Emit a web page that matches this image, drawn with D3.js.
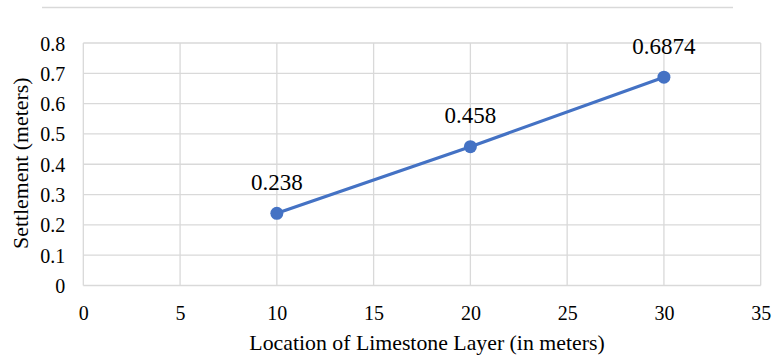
<!DOCTYPE html>
<html>
<head>
<meta charset="utf-8">
<script src="https://cdn.jsdelivr.net/npm/d3@7"></script>
<style>
  html, body { margin: 0; padding: 0; background: #fff; }
  svg { display: block; }
</style>
</head>
<body>
<svg id="chart" width="772" height="360"></svg>
<script>
// Settlement vs. depth of limestone layer
const locations = [10, 20, 30];
const settlements = [0.238, 0.458, 0.6874];
const xTicks = [0, 5, 10, 15, 20, 25, 30, 35];
const yTicks = [0, 0.1, 0.2, 0.3, 0.4, 0.5, 0.6, 0.7, 0.8];
const xTitle = "Location of Limestone Layer (in meters)";
const yTitle = "Settlement (meters)";

const SERIF = "Liberation Serif";

const svg = d3.select("#chart");
const plot = { left: 83.3, right: 760.7, top: 43, bottom: 285.5 };

const x = d3.scaleLinear().domain([0, 35]).range([plot.left, plot.right]);
const y = d3.scaleLinear().domain([0, 0.8]).range([plot.bottom, plot.top]);

// thin rule above the chart
svg.append("line")
  .attr("x1", 42).attr("x2", 733).attr("y1", 7.5).attr("y2", 7.5)
  .attr("stroke", "#d9d9d9").attr("stroke-width", 1.5);

// gridlines
const grid = svg.append("g").attr("stroke", "#d9d9d9").attr("stroke-width", 1.3);
grid.selectAll(".gy").data(yTicks).join("line")
  .attr("x1", plot.left).attr("x2", plot.right)
  .attr("y1", d => y(d)).attr("y2", d => y(d));
grid.selectAll(".gx").data(xTicks).join("line")
  .attr("x1", d => x(d)).attr("x2", d => x(d))
  .attr("y1", plot.top).attr("y2", plot.bottom);

// axes (labels only; lines come from the grid)
const xAxis = svg.append("g")
  .attr("transform", `translate(0,${plot.bottom})`)
  .call(d3.axisBottom(x).tickValues(xTicks).tickSize(0).tickPadding(0).tickFormat(d3.format("d")));
xAxis.select(".domain").remove();
xAxis.selectAll("text").attr("dy", null).attr("y", 34);

const yAxis = svg.append("g")
  .attr("transform", `translate(${plot.left},0)`)
  .call(d3.axisLeft(y).tickValues(yTicks).tickSize(0).tickPadding(18)
    .tickFormat(d => d === 0 ? "0" : d3.format(".1f")(d)));
yAxis.select(".domain").remove();
yAxis.selectAll("text").attr("dy", "0.35em");

svg.selectAll(".tick text")
  .attr("fill", "#000")
  .style("font-family", SERIF)
  .style("font-size", "20px");

// series line
const pts = locations.map((d, i) => ({ x: d, y: settlements[i] }));
svg.append("path")
  .datum(pts)
  .attr("fill", "none")
  .attr("stroke", "#4472c4")
  .attr("stroke-width", 3.2)
  .attr("stroke-linecap", "round")
  .attr("d", d3.line().x(d => x(d.x)).y(d => y(d.y)));

svg.selectAll(".pt").data(pts).join("circle")
  .attr("class", "pt")
  .attr("cx", d => x(d.x)).attr("cy", d => y(d.y)).attr("r", 6.5)
  .attr("fill", "#4472c4");

// value labels
svg.selectAll(".val").data(pts).join("text")
  .attr("class", "val")
  .attr("x", d => x(d.x)).attr("y", d => y(d.y) - 23.5)
  .attr("text-anchor", "middle")
  .attr("fill", "#000")
  .style("font-family", SERIF)
  .style("font-size", "23px")
  .text(d => String(d.y));

// axis titles
svg.append("text")
  .attr("x", (plot.left + plot.right) / 2 + 5).attr("y", 350)
  .attr("text-anchor", "middle")
  .attr("fill", "#000")
  .style("font-family", SERIF)
  .style("font-size", "21.8px")
  .text(xTitle);

svg.append("text")
  .attr("transform", `translate(27.5,${(plot.top + plot.bottom) / 2 - 1}) rotate(-90)`)
  .attr("text-anchor", "middle")
  .attr("fill", "#000")
  .style("font-family", SERIF)
  .style("font-size", "21.8px")
  .text(yTitle);
</script>
</body>
</html>
